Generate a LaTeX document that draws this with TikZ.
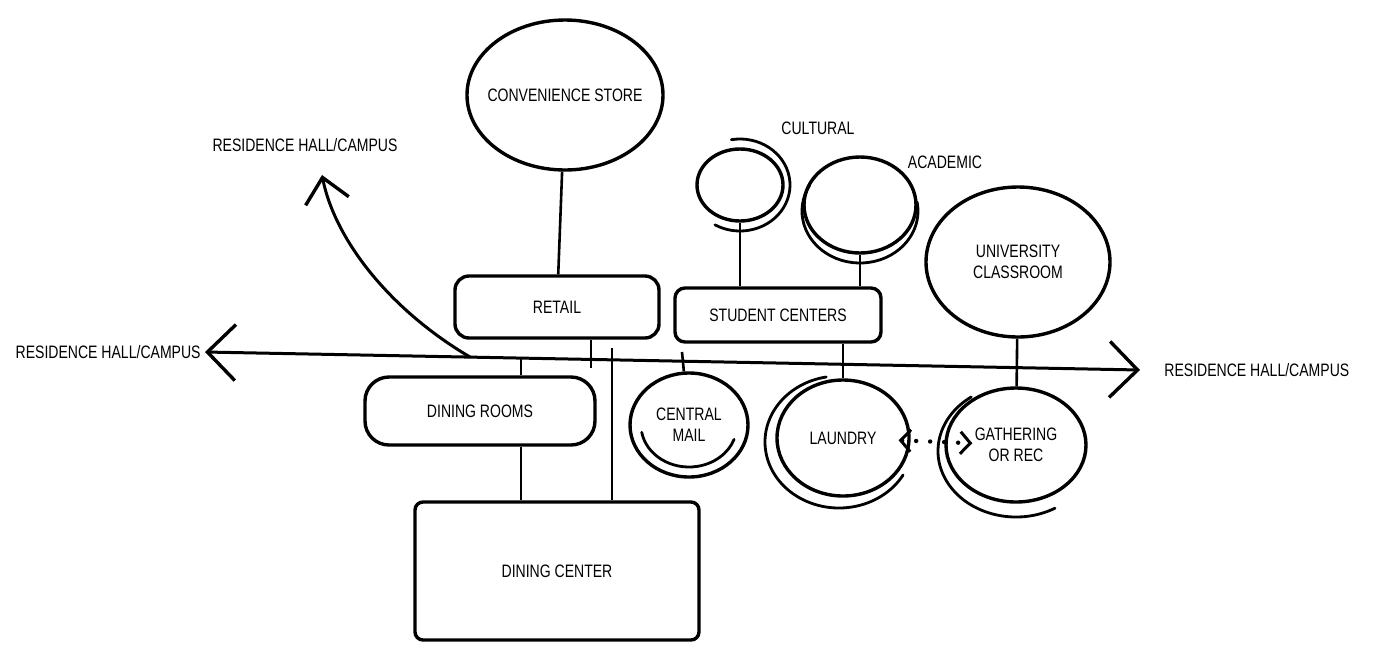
\documentclass[tikz,border=0pt]{standalone}
\usepackage{fontspec}
\newfontfamily\handfont{Liberation Sans}[FakeStretch=0.78]
\usetikzlibrary{shapes.geometric,arrows.meta,calc}
\tikzset{
	every node/.style={font=\handfont\fontsize{9}{10.5}\selectfont, align=center},
	zone/.style={draw, ellipse, line width=1.7pt},
	room/.style={draw, rectangle, line width=1.7pt},
	tie/.style={line width=1.3pt},
	echo/.style={line width=1.4pt, line cap=round},
	way/.style={line width=1.5pt, {Straight Barb[length=14pt,width=28pt,line width=1.7pt]}-{Straight Barb[length=14pt,width=28pt,line width=1.7pt]}}
}
\begin{document}
\begin{tikzpicture}[x=0.5pt, y=-0.5pt]
	\useasboundingbox (0,0) rectangle (1377,644);
	% shared rooms and services
	\node [zone, minimum width=98pt, minimum height=75pt, label={center:CONVENIENCE STORE}] (store) at (565,95) {};
	\node [room, rounded corners=7pt, minimum width=102pt, minimum height=31pt] (retail) at (557,307) {RETAIL};
	\node [room, rounded corners=12pt, minimum width=115pt, minimum height=34pt] (rooms) at (480,411) {DINING ROOMS};
	\node [room, rounded corners=4pt, minimum width=142pt, minimum height=69pt] (dining) at (557,571) {DINING CENTER};
	\node [zone, minimum width=59pt, minimum height=52pt] (mail) at (689,425) {CENTRAL\\MAIL};
	\node [room, rounded corners=5pt, minimum width=103pt, minimum height=27pt] (student) at (778,315) {STUDENT CENTERS};
	\node [zone, minimum width=43pt, minimum height=36pt] (cultural) at (740,185) {};
	\node [zone, minimum width=56pt, minimum height=48pt] (academic) at (860,205) {};
	\node [zone, minimum width=66pt, minimum height=58pt] (laundry) at (843,438) {LAUNDRY};
	\node [zone, minimum width=92pt, minimum height=75pt] (classroom) at (1018,262) {UNIVERSITY\\CLASSROOM};
	\node [zone, minimum width=70pt, minimum height=57pt] (gathering) at (1016,445) {GATHERING\\OR REC};
	\node (lblcul) at (818,128) {CULTURAL};
	\node (lblaca) at (945,162) {ACADEMIC};

	% second strokes of the sketched circles
	\draw [echo] ($(cultural)+(100:25pt and 23pt)$) arc [start angle=100, end angle=-120, x radius=25pt, y radius=23pt];
	\draw [echo] ($(academic)+(0,-3pt)+(150:29pt and 26pt)$) arc [start angle=150, end angle=370, x radius=29pt, y radius=26pt];
	\draw [echo] ($(mail)+(190:24pt and 21pt)$) arc [start angle=190, end angle=340, x radius=24pt, y radius=21pt];
	\draw [echo] ($(laundry)+(-2pt,-2pt)+(100:37pt and 33pt)$) arc [start angle=100, end angle=330, x radius=37pt, y radius=33pt];
	\draw [echo] ($(gathering)+(0,-3pt)+(-60:39pt and 33pt)$) arc [start angle=-60, end angle=-235, x radius=39pt, y radius=33pt];

	% circulation to the residence halls
	\coordinate (hallW) at (205,352);
	\coordinate (hallE) at (1140,370);
	\coordinate (hallC) at (470,357);
	\coordinate (hallN) at (322,175);
	\draw [way] (hallW) -- (hallE);
	\draw [way, {Straight Barb[length=12pt,width=22pt,line width=1.7pt]}-] (hallN) .. controls (335,240) and (390,310) .. (hallC);
	\node [anchor=east, inner sep=2pt] (resW) at (hallW) {RESIDENCE HALL/CAMPUS};
	\node [anchor=west, inner sep=2pt] (resE) at ([xshift=10pt]hallE) {RESIDENCE HALL/CAMPUS};
	\node (resN) at (305,145) {RESIDENCE HALL/CAMPUS};

	% links
	\coordinate (ad) at (521,358);
	\coordinate (ar) at (591,368);
	\coordinate (ac) at (612,348);
	\coordinate (am) at (682,352);
	\draw [tie] (store) -- (retail);
	\draw [tie] (ar) -- (ar |- retail.south);
	\draw [tie] (ad) -- (ad |- rooms.north);
	\draw [tie] (ad |- rooms.south) -- (ad |- dining.north);
	\draw [tie] (ac) -- (ac |- dining.north);
	\draw [tie] (am) -- (mail);
	\draw [tie] (cultural) -- (cultural |- student.north);
	\draw [tie] (academic) -- (academic |- student.north);
	\draw [tie] (student.south -| laundry) -- (laundry);
	\draw [tie] (classroom) -- (gathering);
	\draw [line width=2.2pt, line cap=round, dash pattern=on 0pt off 7pt, {Straight Barb[length=5pt,width=11pt,line width=1.5pt]}-{Straight Barb[length=5pt,width=11pt,line width=1.5pt]}, shorten <=-6pt, shorten >=-14pt] (laundry) -- (gathering);
\end{tikzpicture}
\end{document}
